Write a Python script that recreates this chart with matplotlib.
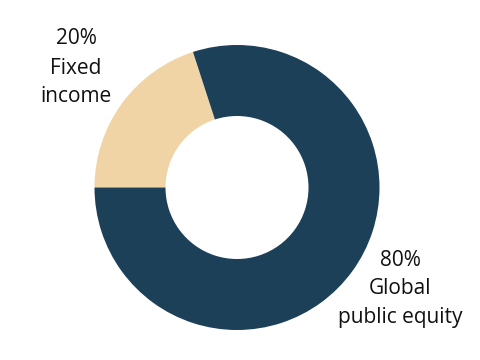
import matplotlib
matplotlib.use("Agg")
import matplotlib.pyplot as plt

labels = ["20%\nFixed\nincome", "80%\nGlobal\npublic equity"]
shares = [20, 80]
colors = ["#f0d4a5", "#1d4059"]

fig = plt.figure(figsize=(4.8, 3.6), dpi=100)
ax = fig.add_axes([0, 0, 1, 1])

ax.pie(shares, colors=colors, startangle=180, counterclock=False,
       center=(237, 360 - 187.5), radius=142.5,
       wedgeprops=dict(width=71, linewidth=0), frame=True)
ax.set_xlim(0, 480)
ax.set_ylim(0, 360)
ax.set_aspect("equal")
ax.axis("off")

ax.text(76, 360 - 68, labels[0], ha="center", va="center", fontsize=15,
        family="Open Sans", color="#111111", linespacing=1.5)
ax.text(400, 360 - 289, labels[1], ha="center", va="center", fontsize=15,
        family="Open Sans", color="#111111", linespacing=1.5)

fig.savefig("out.png", dpi=100)
